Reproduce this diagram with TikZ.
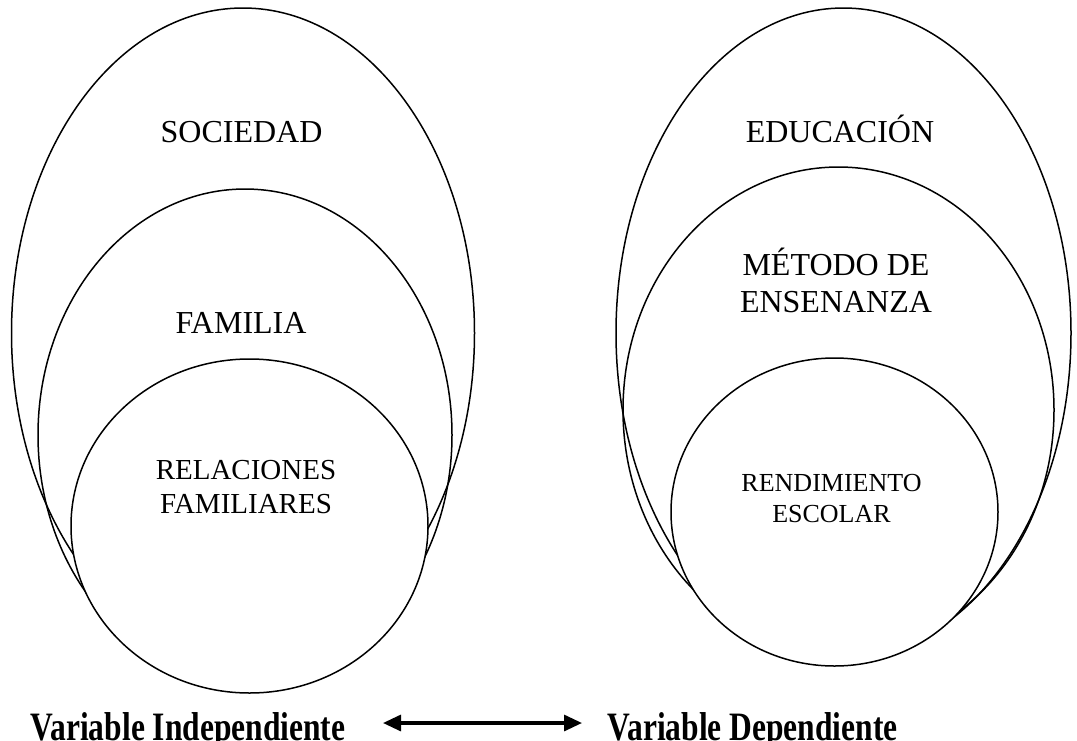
\documentclass[tikz,border=0pt]{standalone}
\usepackage{fontspec}
\setmainfont{Liberation Serif}
\usetikzlibrary{shapes.geometric,arrows.meta}
\begin{document}
\begin{tikzpicture}[x=1pt,y=-1pt,
  oval/.style={ellipse, draw, line width=1.5pt, inner sep=0pt, outer sep=0pt},
  core/.style={oval, fill=white},
  lbl/.style={inner sep=0pt, align=center, anchor=south},
  bigtxt/.style={lbl, font=\fontsize{32}{37}\selectfont},
  midtxt/.style={lbl, font=\fontsize{29}{34}\selectfont},
  smalltxt/.style={lbl, font=\fontsize{26}{31}\selectfont},
  vartxt/.style={inner sep=0pt, anchor=base, font=\fontsize{31.5}{37}\selectfont\bfseries},
  biarrow/.style={{Triangle[length=18pt,width=16pt]}-{Triangle[length=18pt,width=16pt]}, line width=3.2pt}
]
\useasboundingbox (0,0) rectangle (1077,740);
% left group
\node[oval, minimum width=463pt, minimum height=650pt] (soc) at (243,333) {};
\node[oval, minimum width=414pt, minimum height=492pt] (fam) at (245,435) {};
\node[core, minimum width=357pt, minimum height=334pt] (rel) at (249.5,526) {};
% right group
\node[oval, minimum width=455pt, minimum height=650pt] (edu) at (843.5,333) {};
\node[oval, minimum width=431pt, minimum height=486pt] (met) at (838.5,410) {};
\node[core, minimum width=327pt, minimum height=308pt] (ren) at (834.5,512) {};
% labels
\node[bigtxt] (tsoc) at (241.5,143) {SOCIEDAD};
\node[bigtxt] (tfam) at (241,334) {FAMILIA};
\node[midtxt] (trel) at (246,514) {RELACIONES\\FAMILIARES};
\node[bigtxt] (tedu) at (840,143) {EDUCACIÓN};
\node[bigtxt] (tmet) at (836,313) {MÉTODO DE\\ENSENANZA};
\node[smalltxt] (tren) at (831.5,523) {RENDIMIENTO\\ESCOLAR};
\node[vartxt] (vi) at (188,740) {\scalebox{1}[1.28]{Variable Independiente}};
\node[vartxt] (vd) at (752.5,740) {\scalebox{1}[1.28]{Variable Dependiente}};
\coordinate (al) at (383,723);
\coordinate (ar) at (582,723);
\draw[biarrow] (al) -- (ar);
\end{tikzpicture}
\end{document}
